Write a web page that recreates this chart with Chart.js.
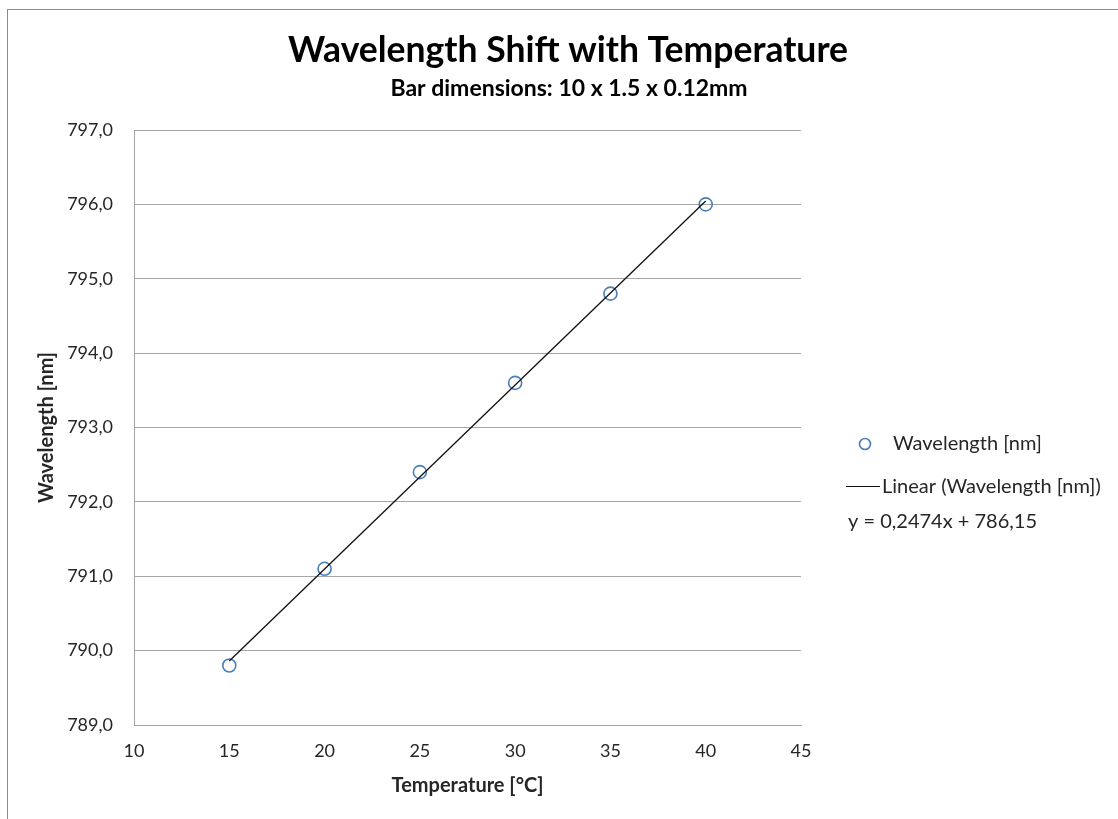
<!DOCTYPE html>
<html><head><meta charset="utf-8">
<script src="https://cdn.jsdelivr.net/npm/chart.js@4"></script>
<style>html,body{margin:0;padding:0;background:#fff}</style>
</head><body>
<canvas id="c" width="1118" height="819" style="display:block;width:1118px;height:819px"></canvas>
<script>
// ---- data ----
const temperatures = [15, 20, 25, 30, 35, 40];
const wavelengths = [789.8, 791.1, 792.4, 793.6, 794.8, 796.0];
const trendSlope = 0.2474;      // from the displayed equation
const trendIntercept = 786.15;  // from the displayed equation
const trendRange = [15, 40];
const xTickRange = [10, 45, 5];
const yTickRange = [789, 797, 1];
const titleText = 'Wavelength Shift with Temperature';
const subtitleText = 'Bar dimensions: 10 x 1.5 x 0.12mm';
const xTitle = 'Temperature [°C]';
const yTitle = 'Wavelength [nm]';
const seriesLabel = 'Wavelength [nm]';
const trendLabel = 'Linear (Wavelength [nm])';

const FONT = 'Lato, "Open Sans", sans-serif';
const TEXT = '#262626';
const GRID = '#a6a6a6';
const BLUE = '#4a7ebb';

const fmt = v => v.toFixed(1).replace('.', ',');
const fmtNum = v => String(v).replace('.', ',');
const equationText = 'y = ' + fmtNum(trendSlope) + 'x + ' + fmtNum(trendIntercept);

const pointData = temperatures.map((t, i) => ({x: t, y: wavelengths[i]}));
const trendData = trendRange.map(t => ({x: t, y: trendSlope * t + trendIntercept}));

const decorPlugin = {
  id: 'decor',
  beforeDraw(chart) {
    const ctx = chart.ctx;
    ctx.save();
    ctx.fillStyle = '#fff';
    ctx.fillRect(0, 0, chart.width, chart.height);
    ctx.strokeStyle = '#8c8c8c';
    ctx.lineWidth = 1;
    ctx.strokeRect(7.5, 9.5, chart.width + 10, chart.height + 10);
    ctx.restore();
  },
  afterDraw(chart) {
    const ctx = chart.ctx;
    ctx.save();
    ctx.fillStyle = '#000';
    ctx.textAlign = 'center';
    ctx.textBaseline = 'alphabetic';
    ctx.font = 'bold 35.5px ' + FONT;
    ctx.fillText(titleText, 568, 62);
    ctx.font = 'bold 23px ' + FONT;
    ctx.fillText(subtitleText, 569, 96);

    // legend
    const ds0 = chart.data.datasets[0];
    const ds1 = chart.data.datasets[1];
    ctx.strokeStyle = ds0.pointBorderColor;
    ctx.lineWidth = ds0.pointBorderWidth;
    ctx.beginPath();
    ctx.arc(865, 444, 5.5, 0, Math.PI * 2);
    ctx.stroke();
    ctx.strokeStyle = ds1.borderColor;
    ctx.lineWidth = 1.2;
    ctx.beginPath();
    ctx.moveTo(846, 486.5);
    ctx.lineTo(880, 486.5);
    ctx.stroke();
    ctx.fillStyle = TEXT;
    ctx.textAlign = 'left';
    ctx.textBaseline = 'middle';
    ctx.font = '20px ' + FONT;
    ctx.fillText(ds0.label, 893, 444);
    ctx.fillText(ds1.label, 882, 487);
    ctx.fillText(equationText, 848, 522);
    ctx.restore();
  }
};

new Chart(document.getElementById('c'), {
  type: 'scatter',
  data: {
    datasets: [
      {
        label: seriesLabel,
        data: pointData,
        pointRadius: 6.5,
        pointHoverRadius: 6.5,
        pointBorderWidth: 1.6,
        pointBorderColor: BLUE,
        pointBackgroundColor: 'rgba(255,255,255,0)',
        showLine: false,
        order: 1
      },
      {
        label: trendLabel,
        data: trendData,
        showLine: true,
        borderColor: '#111',
        borderWidth: 1.3,
        pointRadius: 0,
        fill: false,
        order: 0
      }
    ]
  },
  options: {
    responsive: false,
    animation: false,
    devicePixelRatio: 1,
    layout: {padding: {top: 130, right: 317, bottom: 0, left: 0}},
    plugins: {legend: {display: false}, tooltip: {enabled: false}, title: {display: false}},
    scales: {
      x: {
        type: 'linear',
        min: xTickRange[0], max: xTickRange[1],
        ticks: {stepSize: xTickRange[2], color: TEXT, font: {family: FONT, size: 18}, padding: 15, maxRotation: 0},
        grid: {display: false, drawTicks: false},
        border: {display: true, color: GRID, width: 1},
        title: {display: true, text: xTitle, color: TEXT, font: {family: FONT, size: 20, weight: 'bold'}, padding: {top: 0, bottom: 21}},
        afterFit(s) { s.height = 94; }
      },
      y: {
        type: 'linear',
        min: yTickRange[0], max: yTickRange[1],
        ticks: {stepSize: yTickRange[2], color: TEXT, font: {family: FONT, size: 18}, padding: 21, callback: v => fmt(v)},
        grid: {color: GRID, lineWidth: 1, drawTicks: false},
        border: {display: true, color: GRID, width: 1},
        title: {display: true, text: yTitle, color: TEXT, font: {family: FONT, size: 20, weight: 'bold'}, padding: {top: 35, bottom: 0}},
        afterFit(s) { s.width = 134; }
      }
    }
  },
  plugins: [decorPlugin]
});
</script>
</body></html>
